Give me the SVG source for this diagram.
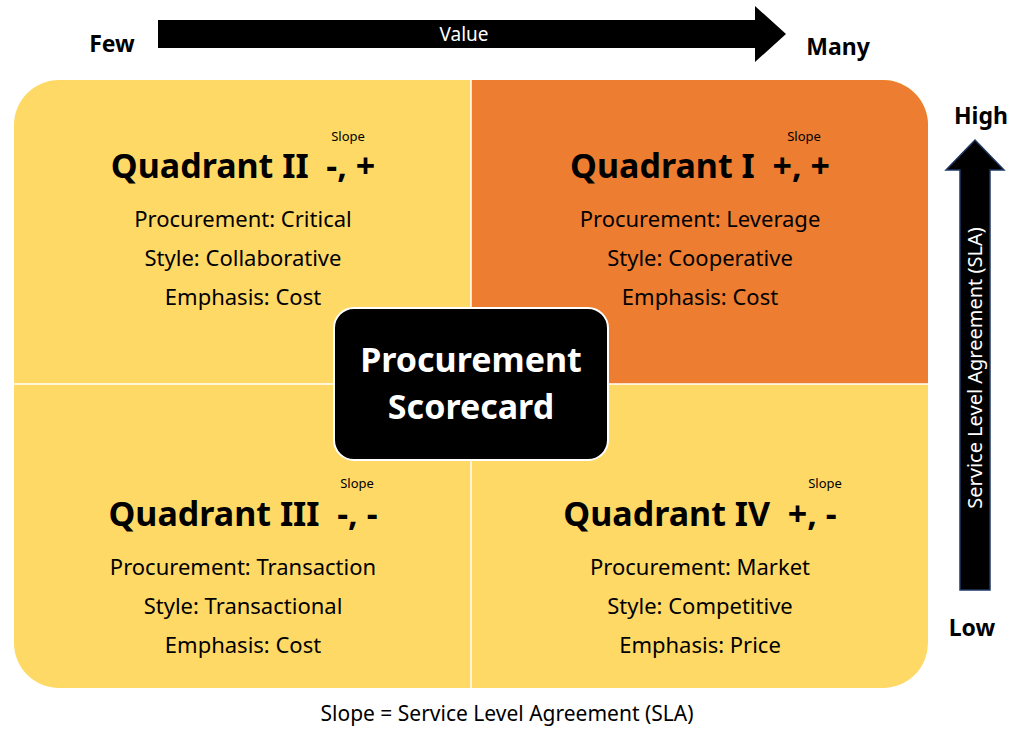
<svg xmlns="http://www.w3.org/2000/svg" width="1024" height="742" viewBox="0 0 1024 742">
<style>
text{font-family:"Noto Sans","Liberation Sans",sans-serif;fill:#000;white-space:pre}
.t{font-size:34px;font-weight:bold;text-anchor:middle}
.b{font-size:22px;text-anchor:middle}
.s{font-size:13px;text-anchor:middle}
.lab{font-size:23px;font-weight:bold;text-anchor:middle}
</style>
<rect width="1024" height="742" fill="#fff"/>
<g id="axis-value">
<polygon points="158,20 755,20 755,6 786,34 755,62 755,48 158,48" fill="#000"/>
<text x="464" y="41" style="font-size:19px;fill:#fff;text-anchor:middle">Value</text>
<text class="lab" x="112" y="52">Few</text>
<text class="lab" x="838" y="55">Many</text>
</g>
<g id="axis-sla">
<polygon points="960,590 960,170 946,170 975,140 1004,170 990,170 990,590" fill="#000" stroke="#1f3864" stroke-width="1.5"/>
<text transform="translate(982,368) rotate(-90)" style="font-size:20px;fill:#fff;text-anchor:middle">Service Level Agreement (SLA)</text>
<text class="lab" x="981" y="124">High</text>
<text class="lab" x="972" y="636">Low</text>
</g>
<g id="quadrants">
<rect x="14" y="80" width="914" height="608" rx="45" fill="#FFD966"/>
<path d="M471,80 H883 A45,45 0 0 1 928,125 V384 H471 Z" fill="#ED7D31"/>
<line x1="471" y1="80" x2="471" y2="688" stroke="#fff" stroke-width="1.5"/>
<line x1="14" y1="384" x2="928" y2="384" stroke="#fff" stroke-width="1.5"/>
</g>
<g id="q2">
<text class="t" x="243" y="178" xml:space="preserve">Quadrant II  -, +</text>
<text class="s" x="348" y="141">Slope</text>
<text class="b" x="243" y="227">Procurement: Critical</text>
<text class="b" x="243" y="266">Style: Collaborative</text>
<text class="b" x="243" y="305">Emphasis: Cost</text>
</g>
<g id="q1">
<text class="t" x="700" y="178" xml:space="preserve">Quadrant I  +, +</text>
<text class="s" x="804" y="141">Slope</text>
<text class="b" x="700" y="227">Procurement: Leverage</text>
<text class="b" x="700" y="266">Style: Cooperative</text>
<text class="b" x="700" y="305">Emphasis: Cost</text>
</g>
<g id="q3">
<text class="t" x="243" y="526" xml:space="preserve">Quadrant III  -, -</text>
<text class="s" x="357" y="488">Slope</text>
<text class="b" x="243" y="575">Procurement: Transaction</text>
<text class="b" x="243" y="614">Style: Transactional</text>
<text class="b" x="243" y="653">Emphasis: Cost</text>
</g>
<g id="q4">
<text class="t" x="700" y="526" xml:space="preserve">Quadrant IV  +, -</text>
<text class="s" x="825" y="488">Slope</text>
<text class="b" x="700" y="575">Procurement: Market</text>
<text class="b" x="700" y="614">Style: Competitive</text>
<text class="b" x="700" y="653">Emphasis: Price</text>
</g>
<g id="center">
<rect x="334" y="308" width="274" height="152" rx="20" fill="#000" stroke="#fff" stroke-width="2"/>
<text x="471" y="372" style="font-size:34px;font-weight:bold;fill:#fff;text-anchor:middle">Procurement</text>
<text x="471" y="419" style="font-size:34px;font-weight:bold;fill:#fff;text-anchor:middle">Scorecard</text>
</g>
<g id="caption">
<text x="507" y="721" style="font-size:21px;text-anchor:middle">Slope = Service Level Agreement (SLA)</text>
</g>
</svg>
